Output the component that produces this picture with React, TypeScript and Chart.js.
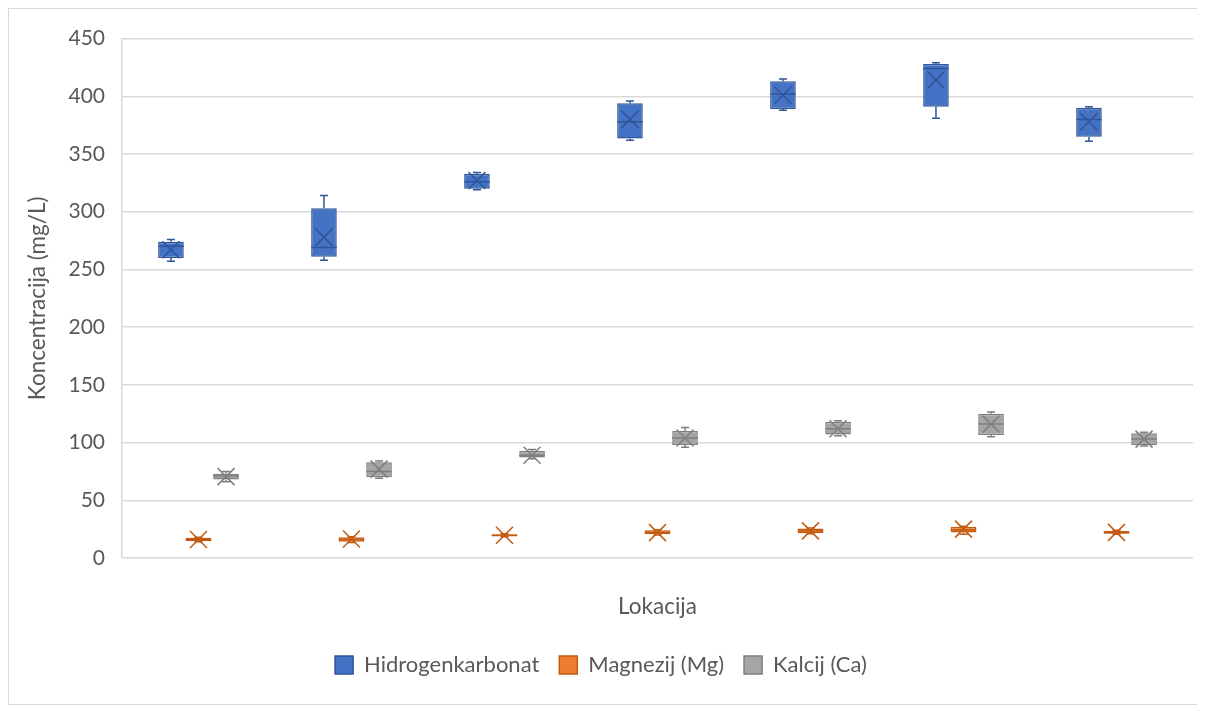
import React, { useEffect, useRef } from "react";
import { Chart, registerables } from "chart.js";

Chart.register(...registerables);

// ---- data ----
const lokacije = ["1", "2", "3", "4", "5", "6", "7"];
const seriesNames = ["Hidrogenkarbonat", "Magnezij (Mg)", "Kalcij (Ca)"];

const hcoMin = [257, 258, 319, 362, 388, 381, 361];
const hcoQ1 = [260, 261, 320, 363.5, 389, 391, 365];
const hcoMedian = [270, 269, 326, 378, 402, 424, 380];
const hcoQ3 = [274, 303, 333, 394, 413, 428, 390];
const hcoMax = [276, 314, 334, 396, 415, 429, 391];
const hcoMean = [267, 278, 327, 380, 401, 414, 378];

const mgMin = [14, 13.5, 18.5, 20, 21, 20.5, 20.5];
const mgQ1 = [14.5, 14, 19, 20.5, 21.5, 22, 21];
const mgMedian = [16, 16, 19.5, 22, 23.5, 24.5, 22];
const mgQ3 = [17.5, 18, 20.5, 24, 25.5, 27, 23.5];
const mgMax = [18, 18.5, 21, 24.5, 26, 27.5, 24];
const mgMean = [16, 16.5, 19.7, 22, 23.5, 25, 22.2];

const caMin = [66, 69, 86, 96, 106, 105, 97];
const caQ1 = [68, 70, 87, 98, 107, 106.5, 98];
const caMedian = [71, 75, 89, 104, 112, 116, 103];
const caQ3 = [73, 83, 93, 110, 118, 125, 108];
const caMax = [75, 84, 94, 113, 119, 126.5, 109];
const caMean = [70.5, 77, 89, 104, 112, 116, 103];

const yMin = 0;
const yMax = 450;
const yStep = 50;

const fills = ["#4472C4", "#ED7D31", "#A5A5A5"];
const borders = ["#2F5597", "#C55A11", "#7F7F7F"];

const stats = [
  { min: hcoMin, q1: hcoQ1, med: hcoMedian, q3: hcoQ3, max: hcoMax, mean: hcoMean },
  { min: mgMin, q1: mgQ1, med: mgMedian, q3: mgQ3, max: mgMax, mean: mgMean },
  { min: caMin, q1: caQ1, med: caMedian, q3: caQ3, max: caMax, mean: caMean },
];

const FONT = "Lato";
const TEXT = "#595959";

const boxPlugin = {
  id: "boxWhisker",
  afterDatasetsDraw(chart: any) {
    const ctx = chart.ctx;
    const ys = chart.scales.y;
    stats.forEach((s, d) => {
      const meta = chart.getDatasetMeta(d);
      meta.data.forEach((el: any, i: number) => {
        const { x, width } = el.getProps(["x", "width"], true);
        const yMaxP = ys.getPixelForValue(s.max[i]);
        const yMinP = ys.getPixelForValue(s.min[i]);
        const yQ1 = ys.getPixelForValue(s.q1[i]);
        const yQ3 = ys.getPixelForValue(s.q3[i]);
        const yMed = ys.getPixelForValue(s.med[i]);
        const yMean = ys.getPixelForValue(s.mean[i]);
        ctx.save();
        ctx.strokeStyle = borders[d];
        ctx.lineWidth = 1.5;
        const cap = 4;
        ctx.beginPath();
        ctx.moveTo(x, yQ3);
        ctx.lineTo(x, yMaxP);
        ctx.moveTo(x - cap, yMaxP);
        ctx.lineTo(x + cap, yMaxP);
        ctx.moveTo(x, yQ1);
        ctx.lineTo(x, yMinP);
        ctx.moveTo(x - cap, yMinP);
        ctx.lineTo(x + cap, yMinP);
        // median
        ctx.moveTo(x - width / 2, yMed);
        ctx.lineTo(x + width / 2, yMed);
        ctx.stroke();
        // mean marker X
        const h = 8.5;
        ctx.beginPath();
        ctx.moveTo(x - h, yMean - h);
        ctx.lineTo(x + h, yMean + h);
        ctx.moveTo(x + h, yMean - h);
        ctx.lineTo(x - h, yMean + h);
        ctx.stroke();
        ctx.restore();
      });
    });
  },
};

export default function App() {
  const ref = useRef<HTMLCanvasElement | null>(null);

  useEffect(() => {
    document.documentElement.style.overflow = "hidden";
    const canvas = ref.current;
    if (!canvas) return;
    const datasets = stats.map((s, d) => ({
      label: seriesNames[d],
      data: s.q1.map((v, i) => [v, s.q3[i]]),
      backgroundColor: fills[d],
      borderColor: borders[d],
      borderWidth: 1.5,
      borderSkipped: false,
      categoryPercentage: 0.54,
      barPercentage: 0.93,
    }));
    const chart = new Chart(canvas, {
      type: "bar",
      data: { labels: lokacije, datasets: datasets as any },
      options: {
        animation: false,
        responsive: false,
        layout: { padding: { left: 0, right: 12, top: 29, bottom: 18 } },
        plugins: {
          tooltip: { enabled: false },
          legend: {
            position: "bottom",
            labels: {
              font: { family: FONT, size: 22 },
              color: TEXT,
              boxWidth: 18,
              boxHeight: 18,
              padding: 20,
            },
          },
        },
        scales: {
          x: {
            ticks: { display: false },
            grid: { display: false },
            border: { display: false },
            title: {
              display: true,
              text: "Lokacija",
              color: TEXT,
              font: { family: FONT, size: 22.5 },
              padding: { top: 27, bottom: 14 },
            },
          },
          y: {
            min: yMin,
            max: yMax,
            ticks: {
              stepSize: yStep,
              color: TEXT,
              font: { family: FONT, size: 21 },
              padding: 17,
            },
            grid: { color: "#d9d9d9", lineWidth: 1.5, drawTicks: false },
            border: { display: true, color: "#d9d9d9", width: 1.5 },
            title: {
              display: true,
              text: "Koncentracija (mg/L)",
              color: TEXT,
              font: { family: FONT, size: 22.5 },
              padding: { top: 15.5, bottom: 0 },
            },
            afterFit(scale: any) {
              scale.width = 113;
            },
          },
        },
      },
      plugins: [boxPlugin],
    });
    return () => chart.destroy();
  }, []);

  return (
    <div
      style={{
        borderTop: "1px solid #d9d9d9",
        borderLeft: "1px solid #d9d9d9",
        borderBottom: "1px solid #d9d9d9",
        width: 1196,
        height: 695,
        background: "#fff",
      }}
    >
      <canvas ref={ref} width={1196} height={695} style={{ display: "block" }} />
    </div>
  );
}
